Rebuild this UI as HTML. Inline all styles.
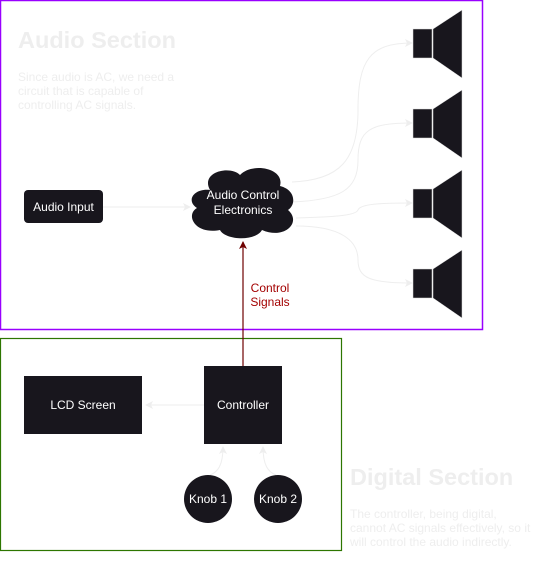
<!DOCTYPE html>
<html><head><style>
body{margin:0;background:#fff;}
svg{display:block;font-family:"Liberation Sans",Arial,sans-serif;}
</style></head><body>
<svg width="535" height="578" viewBox="0 0 535 578">
<defs>
<marker id="ag" markerWidth="8" markerHeight="8" refX="7" refY="4" orient="auto" markerUnits="userSpaceOnUse"><path d="M0,0 L8,4 L0,8 L2,4z" fill="#eeeeee"/></marker>
<marker id="ar" markerWidth="8" markerHeight="8" refX="7" refY="4" orient="auto" markerUnits="userSpaceOnUse"><path d="M0,0 L8,4 L0,8 L2,4z" fill="#6f0000"/></marker>
</defs>
<rect x="0.5" y="0.5" width="482" height="329" fill="none" stroke="#9900ff" stroke-width="1.5"/>
<rect x="0.5" y="338.5" width="341" height="212" fill="none" stroke="#2d7600" stroke-width="1.2"/>
<text x="18" y="48" font-size="23.5" font-weight="bold" fill="#eeeeee">Audio Section</text>
<text font-size="12" fill="#eeeeee"><tspan x="18" y="81">Since audio is AC, we need a</tspan><tspan x="18" y="95">circuit that is capable of</tspan><tspan x="18" y="109">controlling AC signals.</tspan></text>
<text x="350" y="485" font-size="23.5" font-weight="bold" fill="#eeeeee">Digital Section</text>
<text font-size="12" fill="#eeeeee"><tspan x="350" y="518">The controller, being digital,</tspan><tspan x="350" y="532">cannot AC signals effectively, so it</tspan><tspan x="350" y="546">will control the audio indirectly.</tspan></text>
<g fill="none" stroke="#eeeeee" stroke-width="1">
<path d="M103,207 L190,207" marker-end="url(#ag)"/>
<path d="M292,182 C340,180 358,160 358,110 C358,60 370,43 412,43" marker-end="url(#ag)"/>
<path d="M292,202 C340,200 358,190 358,160 C358,130 370,123 412,123" marker-end="url(#ag)"/>
<path d="M296,218 C330,217 356,216 358,210 C360,204 380,203 412,203" marker-end="url(#ag)"/>
<path d="M296,226 C340,226 358,240 358,260 C358,278 370,283 412,283" marker-end="url(#ag)"/>
<path d="M204,405 L146,405" marker-end="url(#ag)"/>
<path d="M210,475 C218,472 223,465 223,447" marker-end="url(#ag)"/>
<path d="M276,475 C268,472 263,465 263,447" marker-end="url(#ag)"/>
</g>
<path d="M243,366 L243,242" stroke="#6f0000" stroke-width="1.2" fill="none" marker-end="url(#ar)"/>
<text font-size="12" fill="#a30000" text-anchor="middle"><tspan x="270" y="292">Control</tspan><tspan x="270" y="306">Signals</tspan></text>
<g fill="#18161d" stroke="#ddd" stroke-width="0.5">
<rect x="413" y="29" width="19" height="29"/><path d="M433,29 L462,10 L462,78 L433,58z"/>
<rect x="413" y="109" width="19" height="29"/><path d="M433,109 L462,90 L462,158 L433,138z"/>
<rect x="413" y="189" width="19" height="29"/><path d="M433,189 L462,170 L462,238 L433,218z"/>
<rect x="413" y="269" width="19" height="29"/><path d="M433,269 L462,250 L462,318 L433,298z"/>
</g>
<rect x="24" y="190" width="79" height="33" rx="4" fill="#18161d"/>
<text x="63.5" y="211" font-size="12" fill="#fff" text-anchor="middle">Audio Input</text>
<path d="M210,190 C200,172 230,165 240,175 C252,162 285,168 280,186 C296,190 296,205 288,210 C302,222 285,240 262,230 C255,242 225,240 220,230 C195,235 185,215 197,208 C185,200 195,188 210,190z" fill="#18161d"/>
<text font-size="12" fill="#fff" text-anchor="middle"><tspan x="243" y="199">Audio Control</tspan><tspan x="243" y="214">Electronics</tspan></text>
<rect x="24" y="376" width="118" height="58" fill="#18161d"/>
<text x="83" y="409" font-size="12" fill="#fff" text-anchor="middle">LCD Screen</text>
<rect x="204" y="366" width="78" height="78" fill="#18161d"/>
<text x="243" y="409" font-size="12" fill="#fff" text-anchor="middle">Controller</text>
<circle cx="208" cy="499" r="24" fill="#18161d"/>
<text x="208" y="503" font-size="12" fill="#fff" text-anchor="middle">Knob 1</text>
<circle cx="278" cy="499" r="24" fill="#18161d"/>
<text x="278" y="503" font-size="12" fill="#fff" text-anchor="middle">Knob 2</text>
</svg>
</body></html>
